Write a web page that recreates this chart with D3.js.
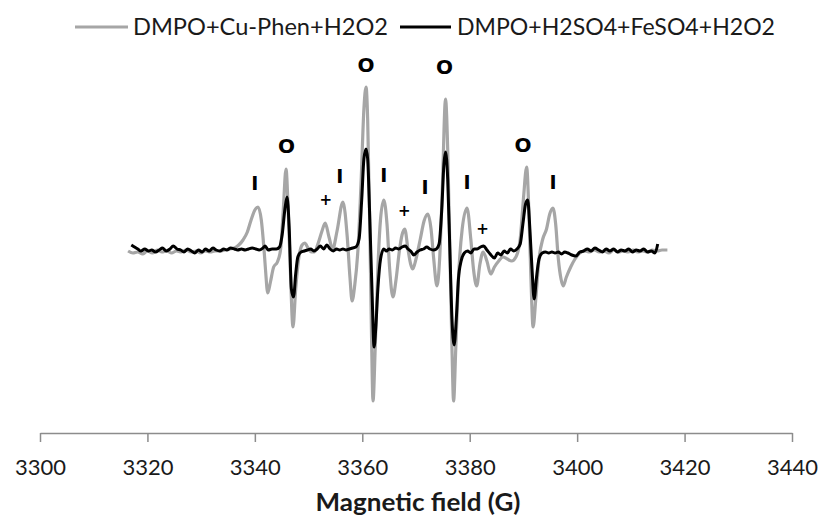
<!DOCTYPE html>
<html>
<head>
<meta charset="utf-8">
<script src="https://cdn.jsdelivr.net/npm/d3@7"></script>
<style>
  body { margin: 0; background: #fff; }
  svg { display: block; font-family: Lato, "Open Sans", sans-serif; }
</style>
</head>
<body>
<div id="chart"></div>
<script>
// series names
const seriesNames = ["DMPO+Cu-Phen+H2O2", "DMPO+H2SO4+FeSO4+H2O2"];

// x axis ticks (G)
const xTicks = [3300, 3320, 3340, 3360, 3380, 3400, 3420, 3440];

// gray spectrum: [field (G), intensity (a.u.)]
const cuPhen = [
    [3316.4, -2], [3317.3, -4], [3318.2, -3], [3319.1, -5], [3320.0, -2], [3320.9, -4],
    [3321.8, -1], [3322.7, -3], [3323.6, -2], [3324.5, -4], [3325.4, -2], [3326.3, -3],
    [3327.2, -1], [3328.1, -3], [3329.0, -2], [3329.9, -4], [3330.8, -2], [3331.7, -3],
    [3332.6, -2], [3333.5, -2], [3334.4, -1], [3335.3, 0], [3336.2, 1], [3337.0, 4],
    [3337.8, 9], [3338.6, 17], [3339.3, 29], [3340.0, 39], [3340.6, 42], [3341.2, 29],
    [3341.7, 0], [3342.0, -22], [3342.4, -44], [3342.9, -33], [3343.5, -18], [3344.2, -13],
    [3344.8, 0], [3345.3, 40], [3345.8, 80], [3346.2, 40], [3346.6, -20], [3347.1, -78],
    [3347.6, -40], [3348.2, -8], [3348.8, 4], [3349.3, 6], [3349.9, 1], [3350.5, -3],
    [3351.1, -3], [3351.8, 6], [3352.5, 18], [3353.1, 26], [3353.8, 12], [3354.5, 0],
    [3355.3, 18], [3356.4, 47], [3357.2, 12], [3357.7, -28], [3358.1, -52], [3358.6, -36],
    [3359.2, 0], [3359.8, 70], [3360.3, 140], [3360.7, 162], [3361.0, 130], [3361.4, 20],
    [3361.7, -80], [3362.0, -152], [3362.4, -100], [3362.9, -20], [3363.4, 30], [3364.0, 49],
    [3364.6, 25], [3365.1, -20], [3365.7, -48], [3366.3, -30], [3366.9, -2], [3367.4, 14],
    [3367.9, 20], [3368.5, 0], [3369.0, -15], [3369.4, -20], [3370.0, -10], [3370.8, 10],
    [3371.5, 28], [3372.2, 35], [3372.8, 20], [3373.3, -10], [3373.9, -37], [3374.4, -10],
    [3374.9, 60], [3375.5, 150], [3375.9, 100], [3376.3, 0], [3376.7, -100], [3377.0, -152],
    [3377.4, -100], [3377.9, -30], [3378.6, 20], [3379.5, 41], [3380.2, 10], [3380.7, -20],
    [3381.3, -37], [3381.9, -15], [3382.5, -3], [3383.2, -12], [3383.9, -25], [3384.6, -18],
    [3385.4, -12], [3386.2, -8], [3387.0, -10], [3387.8, -12], [3388.6, -8], [3389.4, 10],
    [3390.0, 50], [3390.6, 82], [3391.0, 40], [3391.4, -30], [3391.8, -78], [3392.3, -50],
    [3392.9, -10], [3393.6, 10], [3394.3, 20], [3394.9, 35], [3395.5, 41], [3396.0, 25],
    [3396.5, -10], [3397.0, -30], [3397.4, -37], [3398.0, -28], [3398.8, -18], [3399.6, -10],
    [3400.5, -4], [3401.4, -2], [3402.3, -3], [3403.2, -1], [3404.1, -3], [3405.0, -2],
    [3405.9, -4], [3406.8, -1], [3407.7, -3], [3408.6, -2], [3409.5, -3], [3410.4, -1],
    [3411.3, -3], [3412.2, -2], [3413.1, -3], [3414.0, -1], [3414.9, -2], [3415.8, -1],
    [3416.8, -1]
];

// black spectrum: [field (G), intensity (a.u.)]
const feSO4 = [
    [3317.0, 4], [3317.6, 2], [3318.2, 0], [3318.8, -2], [3319.5, 0], [3320.2, -2],
    [3320.8, -1], [3321.5, -3], [3322.2, -1], [3322.8, 1], [3323.5, -2], [3324.2, 0],
    [3324.8, 3], [3325.5, 0], [3326.2, -1], [3326.8, -3], [3327.5, 0], [3328.2, -2],
    [3328.8, -4], [3329.5, -1], [3330.2, -3], [3330.8, 0], [3331.5, -2], [3332.2, 1],
    [3332.8, -1], [3333.5, -2], [3334.2, 0], [3334.8, -1], [3335.5, 1], [3336.2, 0],
    [3336.8, -1], [3337.5, 0], [3338.2, -1], [3338.8, 0], [3339.5, 1], [3340.2, 0],
    [3340.8, -1], [3341.5, 1], [3341.9, 3], [3342.5, -1], [3343.2, 0], [3344.0, 0],
    [3344.6, 2], [3345.1, 15], [3345.6, 40], [3346.0, 52], [3346.4, 20], [3346.8, -40],
    [3347.2, -48], [3347.6, -25], [3348.0, -8], [3348.6, -3], [3349.2, -2], [3349.8, -1],
    [3350.4, 0], [3351.0, -2], [3351.6, 0], [3352.2, 3], [3352.8, 0], [3353.4, 4],
    [3354.0, 0], [3354.6, -2], [3355.2, 0], [3355.8, -1], [3356.4, 0], [3357.0, -1],
    [3357.6, 0], [3358.2, 1], [3358.8, 2], [3359.4, 10], [3359.9, 50], [3360.3, 90],
    [3360.7, 100], [3361.0, 90], [3361.4, 30], [3361.8, -40], [3362.2, -98], [3362.5, -80],
    [3362.9, -40], [3363.4, -10], [3364.0, 0], [3364.5, -2], [3365.0, 0], [3365.6, -1],
    [3366.2, 1], [3366.8, 0], [3367.4, 2], [3368.0, 3], [3368.5, 0], [3369.0, -2],
    [3369.6, -6], [3370.2, -3], [3370.8, -1], [3371.4, 0], [3372.0, 2], [3372.6, 0],
    [3373.2, -1], [3373.8, 0], [3374.3, 5], [3374.8, 40], [3375.2, 85], [3375.5, 97],
    [3375.9, 70], [3376.3, 0], [3376.7, -70], [3377.1, -96], [3377.5, -70], [3377.9, -30],
    [3378.4, -12], [3379.0, -4], [3379.6, -2], [3380.2, -4], [3380.8, 0], [3381.4, 0],
    [3382.0, 2], [3382.6, 3], [3383.2, -1], [3383.8, -5], [3384.6, -9], [3385.2, -4],
    [3385.8, -6], [3386.4, -2], [3387.0, -4], [3387.6, 0], [3388.2, -2], [3388.8, 0],
    [3389.4, 5], [3389.9, 25], [3390.4, 45], [3390.8, 49], [3391.2, 20], [3391.6, -20],
    [3392.0, -50], [3392.4, -30], [3392.9, -10], [3393.5, -4], [3394.1, -3], [3394.7, -4],
    [3395.3, -3], [3395.9, -4], [3396.5, -3], [3397.1, -5], [3397.7, -3], [3398.3, -4],
    [3399.0, -6], [3399.8, -7], [3400.5, -3], [3401.2, -2], [3401.9, 0], [3402.6, -2],
    [3403.3, 1], [3404.0, -1], [3404.7, -3], [3405.4, 0], [3406.1, -2], [3406.8, 0],
    [3407.5, -3], [3408.2, -1], [3408.9, -2], [3409.6, 0], [3410.3, -3], [3411.0, -1],
    [3411.7, -2], [3412.4, 0], [3413.1, -3], [3413.8, -2], [3414.5, -4], [3415.0, 5]
];

// peak markers above the spectrum
const markerSymbols = ["I", "O", "+", "I", "O", "I", "+", "I", "O", "I", "+", "O", "I"];
const markerFields = [3340.0, 3345.9, 3353.2, 3355.8, 3360.7, 3364.0, 3367.8, 3371.7, 3375.3, 3379.5, 3382.4, 3389.9, 3395.5];
const markerHeights = [66, 103, 49, 73, 184, 74, 38, 62, 182, 67, 20, 104, 67];

const width = 819, height = 523;

const svg = d3.select("#chart").append("svg")
    .attr("width", width)
    .attr("height", height);

svg.append("rect").attr("width", width).attr("height", height).attr("fill", "#fff");

const x = d3.scaleLinear().domain([3300, 3440]).range([40, 792]);
const y = d3.scaleLinear().domain([-200, 200]).range([449, 49]);

// x axis
const axisY = 433;
const xAxis = svg.append("g")
    .attr("transform", `translate(0,${axisY})`)
    .call(d3.axisBottom(x).tickValues(xTicks).tickFormat(d3.format("d")).tickSize(9).tickSizeOuter(0));
xAxis.select(".domain").attr("stroke", "#8c8c8c").attr("stroke-width", 1.5);
xAxis.selectAll(".tick line").attr("stroke", "#8c8c8c").attr("stroke-width", 1.5);
xAxis.selectAll(".tick text")
    .attr("y", 26)
    .attr("dy", "0.71em")
    .attr("fill", "#1a1a1a")
    .style("font-size", "22px")
    .style("font-family", "Lato, sans-serif");

svg.append("text")
    .attr("x", x(3370) + 2)
    .attr("y", 511)
    .attr("text-anchor", "middle")
    .attr("textLength", 205)
    .attr("lengthAdjust", "spacingAndGlyphs")
    .style("font-size", "24px")
    .style("font-weight", "bold")
    .attr("fill", "#1a1a1a")
    .text("Magnetic field (G)");

// spectra
const line = d3.line()
    .x(d => x(d[0]))
    .y(d => y(d[1]))
    .curve(d3.curveMonotoneX);

svg.append("path")
    .datum(cuPhen)
    .attr("fill", "none")
    .attr("stroke", "#a6a6a6")
    .attr("stroke-width", 3.2)
    .attr("stroke-linejoin", "round")
    .attr("d", line);

svg.append("path")
    .datum(feSO4)
    .attr("fill", "none")
    .attr("stroke", "#000")
    .attr("stroke-width", 3)
    .attr("stroke-linejoin", "round")
    .attr("d", line);

// markers
svg.selectAll(".marker")
    .data(markerSymbols)
    .enter()
    .append("text")
    .attr("class", "marker")
    .attr("x", (d, i) => x(markerFields[i]))
    .attr("y", (d, i) => y(markerHeights[i]))
    .attr("dy", "0.36em")
    .attr("text-anchor", "middle")
    .style("font-family", "'DejaVu Sans', sans-serif")
    .style("font-weight", "bold")
    .style("font-size", d => d === "+" ? "15px" : d === "O" ? "20px" : "19px")
    .attr("fill", "#000")
    .text(d => d);

// legend
const legend = svg.append("g");
const legendItems = [
    {name: seriesNames[0], color: "#a6a6a6", x1: 75, x2: 128, tx: 133, len: 255},
    {name: seriesNames[1], color: "#000", x1: 400, x2: 451, tx: 457, len: 318}
];
legendItems.forEach(it => {
    legend.append("line")
        .attr("x1", it.x1).attr("x2", it.x2)
        .attr("y1", 27).attr("y2", 27)
        .attr("stroke", it.color)
        .attr("stroke-width", 3);
    legend.append("text")
        .attr("x", it.tx)
        .attr("y", 27)
        .attr("dy", "0.35em")
        .attr("textLength", it.len)
        .attr("lengthAdjust", "spacingAndGlyphs")
        .style("font-size", "23px")
        .attr("fill", "#1a1a1a")
        .text(it.name);
});
</script>
</body>
</html>
